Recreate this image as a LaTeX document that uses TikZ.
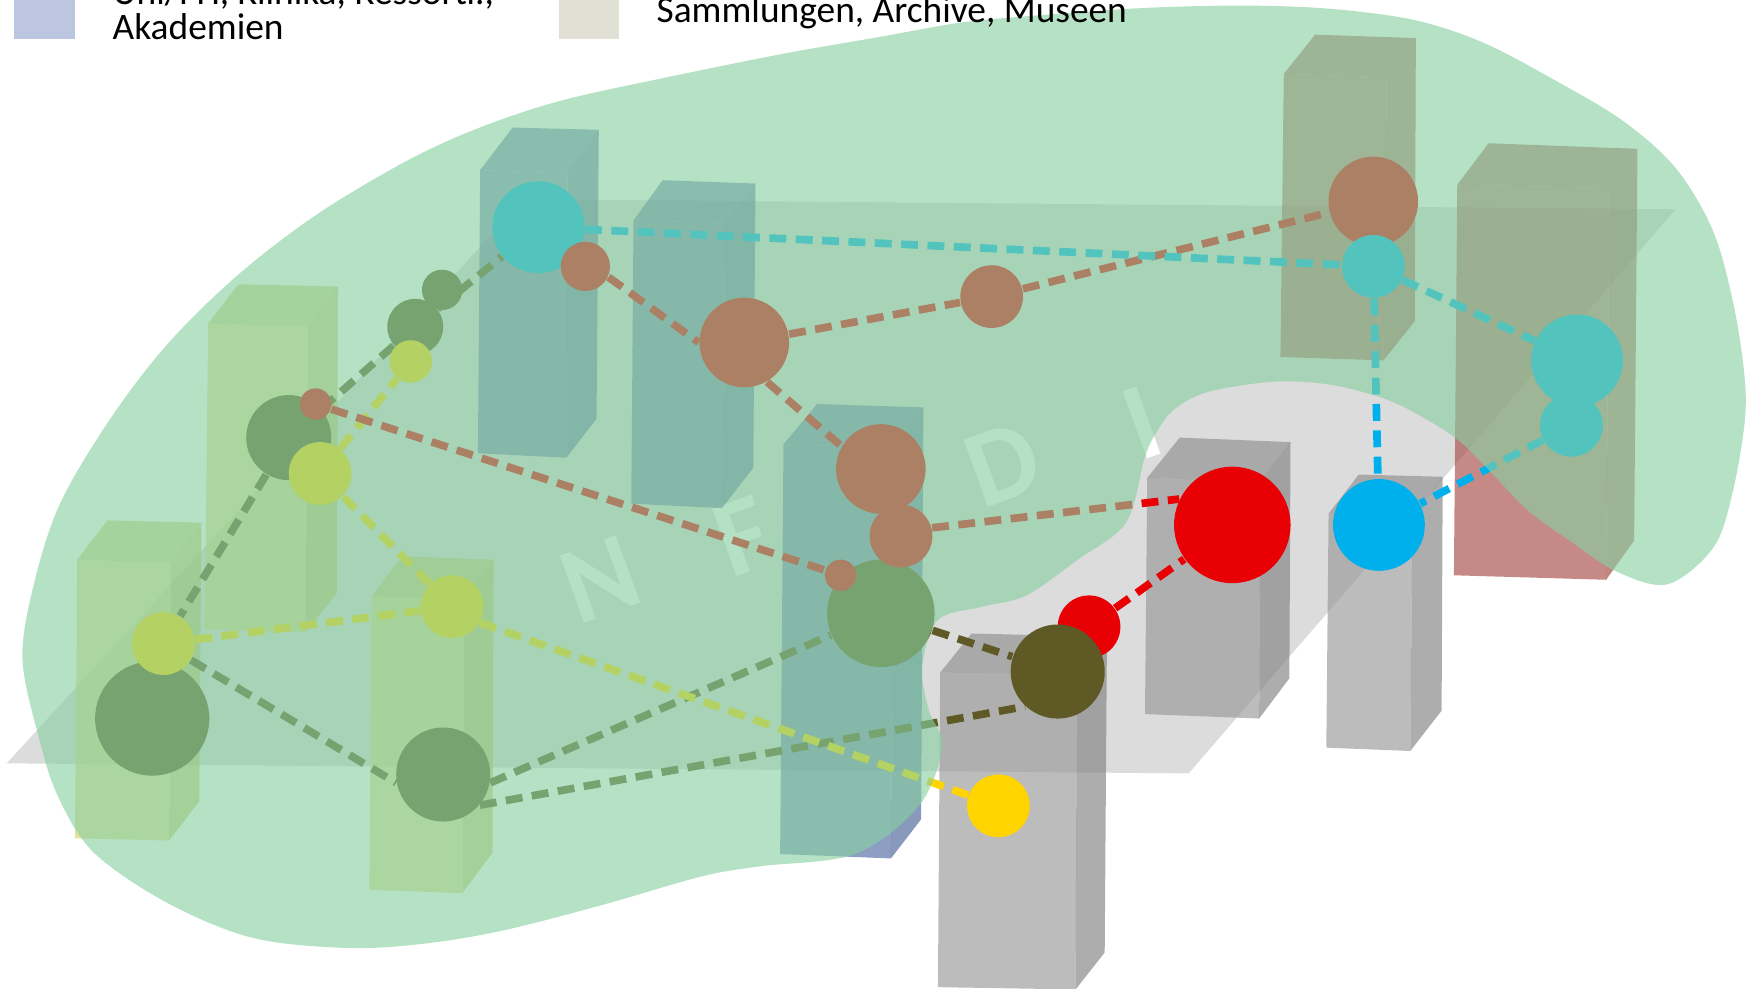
\documentclass[tikz,border=0pt]{standalone}
\usepackage{fontspec}
\setmainfont{Carlito}
\pgfdeclarelayer{ground}
\pgfdeclarelayer{links}
\pgfsetlayers{ground,links,main}
\definecolor{bluefront}{RGB}{84,108,164}
\definecolor{blueside}{RGB}{74,100,152}
\definecolor{bluetop}{RGB}{84,108,166}
\definecolor{beigefront}{RGB}{216,211,108}
\definecolor{beigeside}{RGB}{190,190,85}
\definecolor{beigetop}{RGB}{196,196,96}
\definecolor{rosefront}{RGB}{167,78,70}
\definecolor{roseside}{RGB}{160,74,66}
\definecolor{rosetop}{RGB}{160,76,68}
\definecolor{greyfront}{RGB}{153,153,153}
\definecolor{greyside}{RGB}{131,131,131}
\definecolor{greytop}{RGB}{143,143,143}
\definecolor{planegrey}{RGB}{220,220,220}
\definecolor{veilgreen}{RGB}{135,208,161}
\definecolor{nodered}{RGB}{232,0,5}
\definecolor{nodecyan}{RGB}{0,176,236}
\definecolor{nodeolive}{RGB}{95,90,37}
\definecolor{nodeyellow}{RGB}{255,212,0}
\definecolor{legendblue}{RGB}{188,198,224}
\definecolor{legendbeige}{RGB}{224,224,212}

\begin{document}
\begin{tikzpicture}[x=0.01cm,y=0.01cm]
\tikzstyle{every node}+=[inner sep=0pt]
\tikzstyle{face}=[fill opacity=0.66]
\tikzstyle{letter}=[white, rotate=20, font=\fontsize{28}{28}\bfseries\selectfont]
\tikzstyle{disc}=[circle, draw=none]
\tikzstyle{link}=[line width=1.95pt, dash pattern=on 4.3pt off 2.4pt]
\tikzstyle{legendtext}=[anchor=base west, font=\fontsize{9.5}{9.5}\selectfont]
\useasboundingbox (0,0) rectangle (1568,-883.6);
\begin{pgfonlayer}{ground}
\fill [planegrey] (6,-682) -- (468,-178) -- (1497,-187) -- (1062,-691) -- cycle;
\node [letter] (letN) at (536,-518) {N};
\node [letter] (letF) at (664,-479) {F};
\node [letter] (letD) at (896,-415) {D};
\node [letter] (letI) at (1020,-378) {I};
\fill [face, bluefront] (429,-152) -- (507,-155) -- (506,-409) -- (427,-405) -- cycle;
\fill [face, bluetop] (429,-152) -- (458,-114) -- (535,-116) -- (507,-155) -- cycle;
\fill [face, blueside] (507,-155) -- (535,-116) -- (533,-374) -- (506,-409) -- cycle;
\fill [face, bluefront] (566,-197) -- (648,-199) -- (645,-454) -- (564,-450) -- cycle;
\fill [face, bluetop] (566,-197) -- (592,-161) -- (675,-164) -- (648,-199) -- cycle;
\fill [face, blueside] (648,-199) -- (675,-164) -- (673,-418) -- (645,-454) -- cycle;
\fill [face, bluefront] (700,-397) -- (798,-400) -- (796,-767) -- (697,-763) -- cycle;
\fill [face, bluetop] (700,-397) -- (730,-361) -- (825,-364) -- (798,-400) -- cycle;
\fill [face, blueside] (798,-400) -- (825,-364) -- (823,-732) -- (796,-767) -- cycle;
\fill [face, beigefront] (69,-500) -- (153,-503) -- (151,-751) -- (67,-749) -- cycle;
\fill [face, beigetop] (69,-500) -- (96,-465) -- (180,-467) -- (153,-503) -- cycle;
\fill [face, beigeside] (153,-503) -- (180,-467) -- (178,-716) -- (151,-751) -- cycle;
\fill [face, beigefront] (186,-289) -- (275,-292) -- (273,-565) -- (183,-562) -- cycle;
\fill [face, beigetop] (186,-289) -- (213,-254) -- (302,-256) -- (275,-292) -- cycle;
\fill [face, beigeside] (275,-292) -- (302,-256) -- (301,-530) -- (273,-565) -- cycle;
\fill [face, beigefront] (332,-533) -- (415,-535) -- (413,-798) -- (330,-795) -- cycle;
\fill [face, beigetop] (332,-533) -- (359,-497) -- (441,-500) -- (415,-535) -- cycle;
\fill [face, beigeside] (415,-535) -- (441,-500) -- (440,-762) -- (413,-798) -- cycle;
\fill [face, rosefront] (1147,-66) -- (1239,-69) -- (1236,-322) -- (1144,-319) -- cycle;
\fill [face, rosetop] (1147,-66) -- (1175,-31) -- (1265,-34) -- (1239,-69) -- cycle;
\fill [face, roseside] (1239,-69) -- (1265,-34) -- (1264,-287) -- (1236,-322) -- cycle;
\fill [face, rosefront] (1302,-165) -- (1438,-168) -- (1435,-518) -- (1299,-514) -- cycle;
\fill [face, rosetop] (1302,-165) -- (1330,-128) -- (1463,-133) -- (1438,-168) -- cycle;
\fill [face, roseside] (1438,-168) -- (1463,-133) -- (1460,-483) -- (1435,-518) -- cycle;
\fill [face, greyfront] (1025,-427) -- (1126,-430) -- (1125,-642) -- (1023,-638) -- cycle;
\fill [face, greytop] (1025,-427) -- (1054,-391) -- (1153,-395) -- (1126,-430) -- cycle;
\fill [face, greyside] (1126,-430) -- (1153,-395) -- (1152,-606) -- (1125,-642) -- cycle;
\fill [face, greyfront] (1187,-459) -- (1262,-461) -- (1260,-671) -- (1185,-668) -- cycle;
\fill [face, greytop] (1187,-459) -- (1214,-424) -- (1289,-426) -- (1262,-461) -- cycle;
\fill [face, greyside] (1262,-461) -- (1289,-426) -- (1288,-635) -- (1260,-671) -- cycle;
\fill [face, greyfront] (840,-601) -- (962,-602) -- (961,-884) -- (838,-882) -- cycle;
\fill [face, greytop] (840,-601) -- (868,-566) -- (989,-569) -- (962,-602) -- cycle;
\fill [face, greyside] (962,-602) -- (989,-569) -- (987,-851) -- (961,-884) -- cycle;
\end{pgfonlayer}
\node [disc, fill=nodeolive, minimum size=1.02cm] (oliveA) at (136,-642) {};
\node [disc, fill=nodeolive, minimum size=0.84cm] (oliveB) at (396,-692) {};
\node [disc, fill=nodeolive, minimum size=0.76cm] (oliveC) at (258,-391) {};
\node [disc, fill=nodeolive, minimum size=0.50cm] (oliveD) at (371,-292) {};
\node [disc, fill=nodeolive, minimum size=0.36cm] (oliveE) at (395,-259) {};
\node [disc, fill=nodeolive, minimum size=0.96cm] (oliveF) at (787,-548) {};
\node [disc, fill=nodered, minimum size=0.56cm] (redA) at (973,-560) {};
\node [disc, fill=nodeolive, minimum size=0.84cm] (oliveG) at (945,-600) {};
\node [disc, fill=nodered, minimum size=1.04cm] (redB) at (1101,-469) {};
\node [disc, fill=nodered, minimum size=0.80cm] (redC) at (787,-419) {};
\node [disc, fill=nodered, minimum size=0.56cm] (redD) at (805,-479) {};
\node [disc, fill=nodered, minimum size=0.28cm] (redE) at (751,-514) {};
\node [disc, fill=nodered, minimum size=0.80cm] (redF) at (665,-306) {};
\node [disc, fill=nodered, minimum size=0.56cm] (redG) at (886,-265) {};
\node [disc, fill=nodered, minimum size=0.80cm] (redH) at (1227,-180) {};
\node [disc, fill=nodecyan, minimum size=0.82cm] (cyanA) at (481,-203) {};
\node [disc, fill=nodered, minimum size=0.44cm] (redI) at (523,-238) {};
\node [disc, fill=nodered, minimum size=0.28cm] (redJ) at (282,-361) {};
\node [disc, fill=nodecyan, minimum size=0.56cm] (cyanB) at (1227,-238) {};
\node [disc, fill=nodecyan, minimum size=0.82cm] (cyanC) at (1409,-322) {};
\node [disc, fill=nodecyan, minimum size=0.56cm] (cyanD) at (1404,-380) {};
\node [disc, fill=nodecyan, minimum size=0.82cm] (cyanE) at (1232,-469) {};
\node [disc, fill=nodeyellow, minimum size=0.38cm] (yellowA) at (367,-323) {};
\node [disc, fill=nodeyellow, minimum size=0.56cm] (yellowB) at (286,-423) {};
\node [disc, fill=nodeyellow, minimum size=0.56cm] (yellowC) at (404,-542) {};
\node [disc, fill=nodeyellow, minimum size=0.56cm] (yellowD) at (146,-575) {};
\node [disc, fill=nodeyellow, minimum size=0.56cm] (yellowE) at (892,-720) {};
\begin{pgfonlayer}{links}
\draw [link, nodeolive] (oliveC) -- (oliveD);
\draw [link, nodeolive] (oliveD) -- (cyanA);
\draw [link, nodeolive] (oliveC) -- (yellowD);
\draw [link, nodeolive] (yellowD) -- (oliveB.190);
\draw [link, nodeolive] (oliveB.-10) -- (oliveF);
\draw [link, nodeolive] (oliveB.-40) -- (oliveG.-133);
\draw [link, nodeolive] (oliveF) -- (oliveG);
\draw [link, nodeyellow] (yellowD) -- (yellowC);
\draw [link, nodeyellow] (yellowC) -- (yellowB);
\draw [link, nodeyellow] (yellowB) -- (yellowA);
\draw [link, nodeyellow] (yellowC.-30) -- (yellowE);
\draw [link, nodered] (redJ) -- (redE);
\draw [link, nodered] (redI.-25) -- (redF.180);
\draw [link, nodered] (redF.-60) -- (redC.150);
\draw [link, nodered] (redF) -- (redG);
\draw [link, nodered] (redG) -- (redH);
\draw [link, nodered] (redD.15) -- (redB.154);
\draw [link, nodered] (redA) -- (redB);
\draw [link, nodecyan] (cyanA) -- (cyanB);
\draw [link, nodecyan] (cyanB) -- (cyanC);
\draw [link, nodecyan] (cyanB) -- (cyanE);
\draw [link, nodecyan] (cyanD) -- (cyanE);
\end{pgfonlayer}
\fill [veilgreen, fill opacity=0.62] plot [smooth cycle, tension=0.55] coordinates {(786,-33) (860,-20) (937,-13) (1025,-7) (1113,-5) (1190,-8) (1264,-18) (1325,-38) (1388,-71) (1450,-108) (1497,-150) (1530,-205) (1548,-268) (1558,-330) (1559,-375) (1548,-440) (1531,-489) (1490,-522) (1445,-511) (1405,-485) (1365,-456) (1335,-425) (1305,-395) (1275,-375) (1239,-357) (1190,-344) (1139,-341) (1080,-350) (1050,-365) (1034,-385) (1023,-408) (1006,-467) (963,-500) (917,-532) (878,-542) (838,-554) (824,-596) (830,-635) (842,-667) (821,-720) (764,-763) (679,-774) (627,-783) (540,-808) (451,-831) (380,-843) (311,-847) (226,-838) (150,-807) (84,-762) (52,-712) (35,-660) (20,-587) (32,-515) (55,-447) (100,-372) (150,-307) (211,-247) (281,-193) (361,-145) (426,-115) (501,-90) (601,-68) (700,-48)};
\fill [legendblue] (12.5,0) rectangle (67,-35);
\fill [legendbeige] (499,0) rectangle (553,-35);
\node [legendtext] (legendA) at (100,-4) {Uni/FH, Klinika, Ressortf.,};
\node [legendtext] (legendB) at (100,-35) {Akademien};
\node [legendtext] (legendC) at (586,-20) {Sammlungen, Archive, Museen};
\end{tikzpicture}
\end{document}
